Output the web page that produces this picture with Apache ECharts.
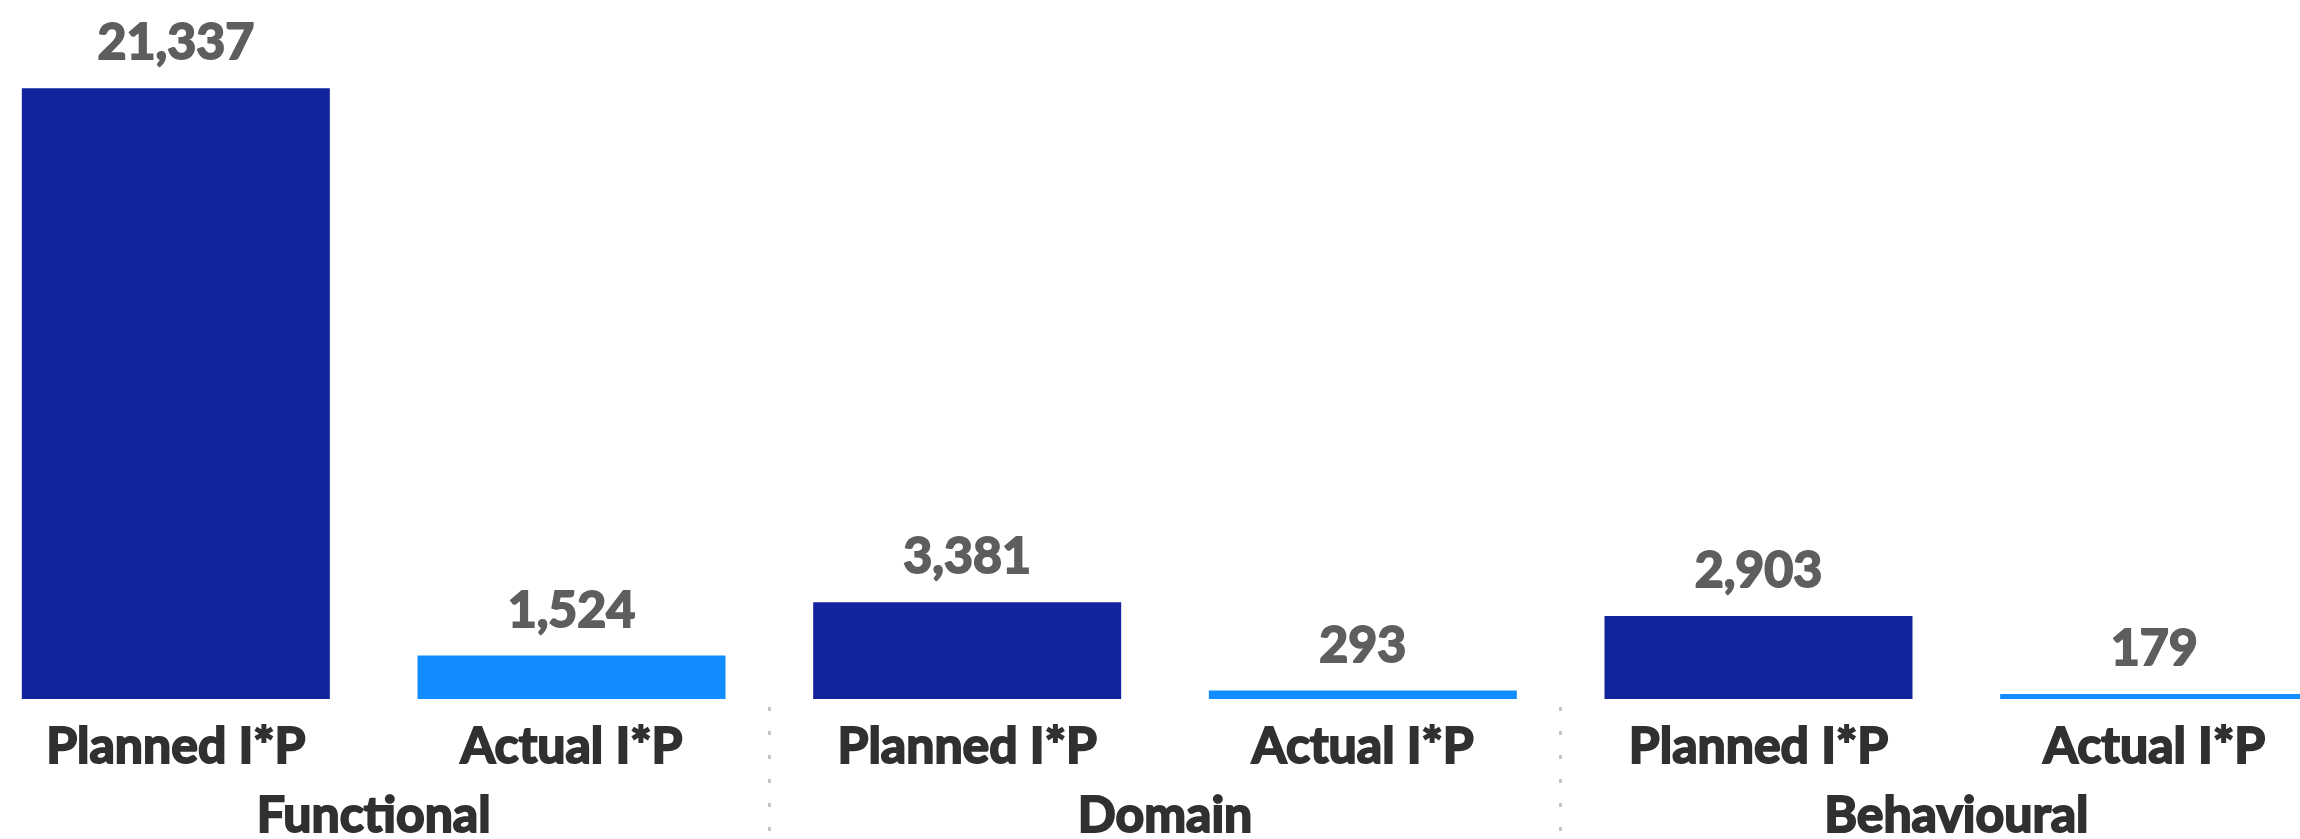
<!DOCTYPE html>
<html>
<head>
<meta charset="utf-8">
<script src="https://cdn.jsdelivr.net/npm/echarts@6/dist/echarts.min.js"></script>
<style>
html,body{margin:0;padding:0;background:#fff;}
#chart{width:2300px;height:839px;}
</style>
</head>
<body>
<div id="chart"></div>
<script>
const groups = ['Functional', 'Domain', 'Behavioural'];
const measures = ['Planned I*P', 'Actual I*P'];
const planned = [21337, 3381, 2903];
const actual = [1524, 293, 179];
const colors = ['#12239E', '#118DFF'];

const cats = [];
const data = [];
groups.forEach((g, i) => {
  [planned[i], actual[i]].forEach((v, j) => {
    cats.push(measures[j]);
    data.push({ value: v, itemStyle: { color: colors[j] } });
  });
});

const FONT = 'Lato, "Open Sans", sans-serif';
const W = 'bold';
const DARK = '#303030';
const GREY = '#5e5e5e';
const chart = echarts.init(document.getElementById('chart'));
chart.setOption({
  animation: false,
  grid: { left: -22, right: -52, top: 12, bottom: 140, containLabel: false, outerBoundsMode: 'none' },
  xAxis: [
    {
      type: 'category', data: cats, position: 'bottom',
      axisLine: { show: false }, axisTick: { show: false },
      axisLabel: { interval: 0, margin: 23, color: DARK, fontFamily: FONT, fontWeight: W, fontSize: 50,
        textBorderColor: DARK, textBorderWidth: 2 }
    },
    {
      type: 'category', data: groups, position: 'bottom', offset: 8,
      axisLine: { show: false },
      axisTick: { show: true, interval: 0, length: 140, lineStyle: { color: '#c6c6c6', width: 3, type: [4, 20] } },
      axisLabel: { interval: 0, margin: 84, color: DARK, fontFamily: FONT, fontWeight: W, fontSize: 50,
        textBorderColor: DARK, textBorderWidth: 2 }
    }
  ],
  yAxis: { type: 'value', min: 0, max: 24000, show: false, splitLine: { show: false } },
  series: [{
    type: 'bar', data: data, barWidth: 308, xAxisIndex: 0,
    label: {
      show: true, position: 'top', distance: 20,
      color: GREY, fontFamily: FONT, fontWeight: W, fontSize: 50,
      textBorderColor: GREY, textBorderWidth: 2,
      formatter: p => p.value.toLocaleString('en-US')
    }
  }]
});
</script>
</body>
</html>
